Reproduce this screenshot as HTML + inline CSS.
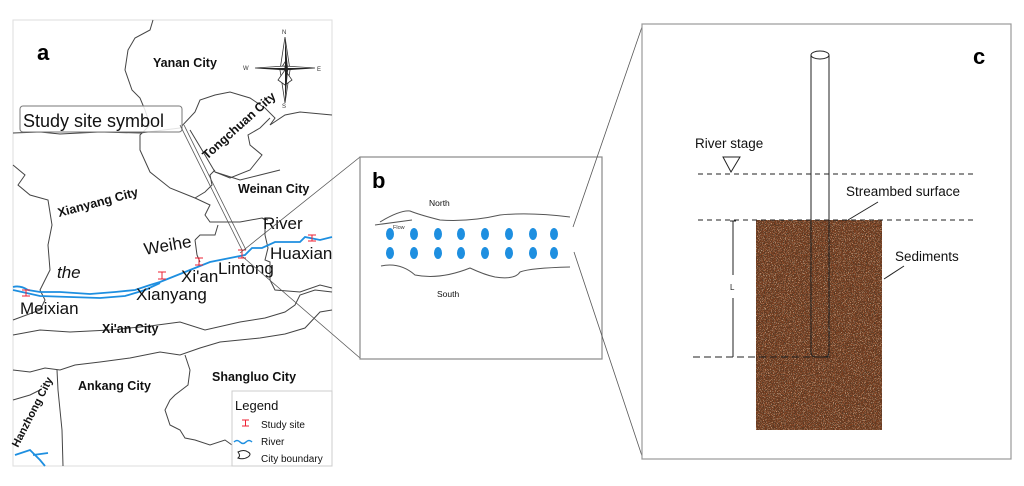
<!DOCTYPE html>
<html><head><meta charset="utf-8"><style>
html,body{margin:0;padding:0;background:#fff;width:1024px;height:486px;overflow:hidden}
svg{display:block;font-family:"Liberation Sans",Arial,sans-serif}
</style></head><body>
<svg width="1024" height="486" viewBox="0 0 1024 486" xmlns="http://www.w3.org/2000/svg">
<defs>
<filter id="dark" x="0" y="0" width="100%" height="100%">
<feTurbulence type="fractalNoise" baseFrequency="1.1" numOctaves="1" seed="3" result="n"/>
<feColorMatrix in="n" type="matrix" values="0 0 0 0 0.08  0 0 0 0 0.04  0 0 0 0 0.02  -6 0 0 0 3.3" result="c"/>
<feComposite in="c" in2="SourceGraphic" operator="in"/>
</filter>
<filter id="light" x="0" y="0" width="100%" height="100%">
<feTurbulence type="fractalNoise" baseFrequency="1.2" numOctaves="1" seed="9" result="n"/>
<feColorMatrix in="n" type="matrix" values="0 0 0 0 0.85  0 0 0 0 0.6  0 0 0 0 0.4  6 0 0 0 -3.4" result="c"/>
<feComposite in="c" in2="SourceGraphic" operator="in"/>
</filter>
</defs>
<rect width="1024" height="486" fill="#fff"/>

<!-- Panel a -->
<rect x="13" y="20" width="319" height="446" fill="#fff" stroke="#ddd" stroke-width="1"/>
<g fill="none" stroke="#444" stroke-width="1">
<path d="M153,20 L150,30 L135,38 L128,50 L125,70 L132,90 L140,98 L145,110 L150,125 L140,135 L140,150 L150,172 L170,188 L195,198 L210,205 L205,215 L210,222 L240,222 L262,218 L268,220"/>
<path d="M13,133 L40,132 L60,134 L100,132 L140,133 L180,128"/>
<path d="M180,128 L195,112 L200,100 L215,95 L230,92 L250,98 L265,108 L275,118 L270,125 L285,115 L300,112 L332,115"/>
<path d="M190,130 L205,155 L215,172 L230,178 L250,170 L262,155 L250,145 L248,135 L260,128 L270,118"/>
<path d="M195,198 L205,192 L212,185 L210,175 L215,170"/>
<path d="M215,172 L240,180 L260,175 L280,170"/>
<path d="M13,165 L25,175 L18,185 L30,195 L48,200 L52,225 L48,245 L50,270 L45,280 L40,290 L45,300 L40,310 L13,320"/>
<path d="M262,218 L265,220 L265,235 L268,248 L265,260 L270,262 L270,280 L275,290 L300,292 L320,285 L332,288"/>
<path d="M195,240 L200,235 L215,235 L218,225"/>
<path d="M195,240 L197,255 L200,262"/>
<path d="M13,335 L40,330 L70,332 L110,330 L150,326 L180,322 L205,330 L240,322 L265,318 L285,312 L295,305 L300,295 L315,290 L332,292"/>
<path d="M13,370 L30,372 L45,368 L60,370 L75,365 L100,362 L130,358 L160,352 L180,355 L200,348 L220,342 L240,340 L260,338 L285,334 L305,328 L320,312 L332,310"/>
<path d="M57,370 L58,390 L60,410 L62,430 L63,466"/>
<path d="M185,355 L190,370 L188,385 L175,395 L170,400 L165,410 L170,425 L180,430 L185,438 L195,440 L210,445 L225,440 L232,445"/>
<path d="M13,400 L30,395 L40,390"/>
</g>
<g fill="none" stroke="#1e8fe0" stroke-width="1.8">
<path d="M13,287 Q20,285 28,290 L40,292 L60,292 L90,294 L115,292 L135,290 L150,285 L160,282 L175,276 L195,268 L210,262 L230,258 L245,255 L252,248 L262,248 L275,242 L300,242 L305,237 L320,240 L332,237"/>
<path d="M13,290 L40,296 L70,297 L100,298 L125,296 L145,290 L160,283"/>
<path d="M15,455 L30,450 L40,460 L45,466"/>
<path d="M33,455 L48,453"/>
</g>
<g stroke="#e23" stroke-width="1" fill="none">
<path d="M22,290 h8 M26,290 v6 M22,296 h8"/>
<path d="M158,272 h8 M162,272 v7 M158,279 h8"/>
<path d="M195,258 h8 M199,258 v7 M195,265 h8"/>
<path d="M238,250 h8 M242,250 v8 M238,258 h8"/>
<path d="M308,235 h8 M312,235 v6 M308,241 h8"/>
</g>
<g fill="#fff" stroke="#333" stroke-width="0.8">
<polygon points="285,37 280,70 285,78 290,70"/>
<polygon points="285,103 280,70 285,62 290,70"/>
<polygon points="255,68 285,66 285,70"/>
<polygon points="315,68 285,66 285,70"/>
<polygon points="285,70 278,80 285,85 292,80"/>
</g>
<polygon points="285,37 285,103 288,70" fill="#222"/>
<polygon points="255,68 315,68 285,70" fill="#222"/>
<g font-size="6" fill="#333">
<text x="282" y="34">N</text><text x="282" y="108">S</text><text x="243" y="70">W</text><text x="317" y="71">E</text>
</g>
<text x="37" y="60" font-size="22" font-weight="bold">a</text>
<g font-size="12.5" font-weight="bold" fill="#111">
<text x="153" y="67">Yanan City</text>
<text x="238" y="193">Weinan City</text>
<text x="102" y="333">Xi'an City</text>
<text x="78" y="390">Ankang City</text>
<text x="212" y="381">Shangluo City</text>
<text x="0" y="0" transform="translate(207,160) rotate(-42)">Tongchuan City</text>
<text x="0" y="0" transform="translate(59,217) rotate(-15)">Xianyang City</text>
<text x="0" y="0" transform="translate(18,448) rotate(-63)" font-size="11">Hanzhong City</text>
</g>
<rect x="20" y="106" width="162" height="26" rx="3" fill="#fff" fill-opacity="0.85" stroke="#777"/>
<text x="23" y="127" font-size="18" fill="#111">Study site symbol</text>
<line x1="180" y1="125" x2="242" y2="250" stroke="#555" stroke-width="0.8"/>
<line x1="184" y1="125" x2="246" y2="250" stroke="#555" stroke-width="0.8"/>
<g font-size="17" fill="#111">
<text x="0" y="0" transform="translate(145,255) rotate(-10)">Weihe</text>
<text x="263" y="229">River</text>
<text x="57" y="278" font-style="italic">the</text>
<text x="20" y="314">Meixian</text>
<text x="136" y="300">Xianyang</text>
<text x="181" y="282">Xi'an</text>
<text x="218" y="274">Lintong</text>
<text x="270" y="259">Huaxian</text>
</g>
<rect x="232" y="391" width="100" height="75" fill="#fff" stroke="#ccc"/>
<text x="235" y="410" font-size="13" fill="#111">Legend</text>
<path d="M242,420 h7 M245.5,420 v6 M242,426 h7" stroke="#e23" fill="none"/>
<path d="M234,442 q3,-3 6,0 t6,0 t6,0" stroke="#1e8fe0" fill="none" stroke-width="1.5"/>
<path d="M238,452 q6,-3 10,0 q4,2 0,5 q-5,3 -10,1 q3,-2 0,-6z" stroke="#222" fill="none"/>
<g font-size="10" fill="#111">
<text x="261" y="428">Study site</text>
<text x="261" y="445">River</text>
<text x="261" y="462">City boundary</text>
</g>

<line x1="240" y1="253" x2="360" y2="157" stroke="#555" stroke-width="0.8"/>
<line x1="243" y1="257" x2="360" y2="358" stroke="#555" stroke-width="0.8"/>

<!-- Panel b -->
<rect x="360" y="157" width="242" height="202" fill="#fff" stroke="#888" stroke-width="1.2"/>
<text x="372" y="188" font-size="22" font-weight="bold">b</text>
<text x="429" y="206" font-size="8.5" fill="#111">North</text>
<text x="437" y="297" font-size="8.5" fill="#111">South</text>
<path d="M380,222 Q400,210 410,211 Q420,215 440,220 Q470,222 500,215 Q530,212 570,217" fill="none" stroke="#555"/>
<path d="M375,225 L412,220" fill="none" stroke="#555"/>
<text x="393" y="229" font-size="5.5" fill="#333">Flow</text>
<path d="M381,266 Q400,262 415,275 Q440,280 470,268 Q485,275 495,277 Q515,280 520,272 Q530,268 570,267" fill="none" stroke="#555"/>
<g fill="#1e8fe0">
<ellipse cx="390" cy="234" rx="4" ry="6"/><ellipse cx="414" cy="234" rx="4" ry="6"/><ellipse cx="438" cy="234" rx="4" ry="6"/><ellipse cx="461" cy="234" rx="4" ry="6"/><ellipse cx="485" cy="234" rx="4" ry="6"/><ellipse cx="509" cy="234" rx="4" ry="6"/><ellipse cx="533" cy="234" rx="4" ry="6"/><ellipse cx="554" cy="234" rx="4" ry="6"/>
<ellipse cx="390" cy="253" rx="4" ry="6"/><ellipse cx="414" cy="253" rx="4" ry="6"/><ellipse cx="438" cy="253" rx="4" ry="6"/><ellipse cx="461" cy="253" rx="4" ry="6"/><ellipse cx="485" cy="253" rx="4" ry="6"/><ellipse cx="509" cy="253" rx="4" ry="6"/><ellipse cx="533" cy="253" rx="4" ry="6"/><ellipse cx="554" cy="253" rx="4" ry="6"/>
</g>
<line x1="573" y1="227" x2="643" y2="24" stroke="#555" stroke-width="0.8"/>
<line x1="574" y1="252" x2="643" y2="459" stroke="#555" stroke-width="0.8"/>

<!-- Panel c -->
<rect x="642" y="24" width="369" height="435" fill="#fff" stroke="#999" stroke-width="1.2"/>
<text x="973" y="64" font-size="22" font-weight="bold">c</text>
<rect x="756" y="220" width="126" height="210" fill="#7e3f1f"/>
<rect x="756" y="220" width="126" height="210" fill="#000" filter="url(#dark)"/>
<rect x="756" y="220" width="126" height="210" fill="#000" filter="url(#light)"/>
<g stroke="#222" stroke-width="1" stroke-dasharray="5,4" fill="none">
<line x1="698" y1="174" x2="976" y2="174"/>
<line x1="698" y1="220" x2="976" y2="220"/>
<line x1="693" y1="357" x2="830" y2="357" stroke-dasharray="7,4"/>
</g>
<path d="M811,55 V352 Q811,357 816,357 H824 Q829,357 829,352 V55" fill="none" stroke="#222" stroke-width="1"/>
<ellipse cx="820" cy="55" rx="9" ry="4" fill="#fff" stroke="#222"/>
<polygon points="723,157 740,157 731,172" fill="#fff" stroke="#222"/>
<text x="695" y="148" font-size="13.5" fill="#111">River stage</text>
<text x="846" y="196" font-size="13.5" fill="#111">Streambed surface</text>
<text x="895" y="261" font-size="13.5" fill="#111">Sediments</text>
<line x1="878" y1="202" x2="848" y2="220" stroke="#222"/>
<line x1="904" y1="266" x2="884" y2="279" stroke="#222"/>
<line x1="733" y1="221" x2="733" y2="275" stroke="#222"/>
<line x1="733" y1="298" x2="733" y2="357" stroke="#222"/>
<line x1="730" y1="221" x2="736" y2="221" stroke="#222"/>
<text x="730" y="290" font-size="8" fill="#222">L</text>
</svg>
</body></html>
